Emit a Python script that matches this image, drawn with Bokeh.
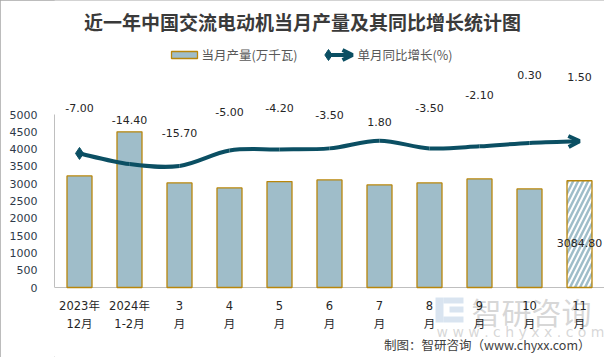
import numpy as np
from bokeh.plotting import figure
from bokeh.models import Range1d, FixedTicker, Arrow, OpenHead
from bokeh.core.properties import value
from bokeh.embed import file_html
from bokeh.resources import INLINE

# ---------------- data ----------------
tick_line1 = ["2023年", "2024年", "3", "4", "5", "6", "7", "8", "9", "10", "11"]
tick_line2 = ["12月", "1-2月", "月", "月", "月", "月", "月", "月", "月", "月", "月"]
production = [3226, 4500, 3023, 2879, 3061, 3110, 2966, 3023, 3139, 2850, 3084.8]
growth = [-7.00, -14.40, -15.70, -5.00, -4.20, -3.50, 1.80, -3.50, -2.10, 0.30, 1.50]

# ---------------- layout / style ----------------
W, H = 604, 357
LEFT = 54
FW = W - LEFT
ZERO_PX, PX_PER_5000 = 287.0, 173.0
UNIT = 5000.0 / PX_PER_5000           # data units per pixel
YMIN = -(H - ZERO_PX) * UNIT
YMAX = ZERO_PX * UNIT
# secondary axis: -100..20 spans the same height as 0..5000
sec = lambda y: -100.0 + 120.0 * y / 5000.0

BAR_FILL = "#9fbdc9"
BAR_LINE = "#b8860b"
LINE_C = "#0b4f63"
TXT = "#262626"
NUM_FONT = "DejaVu Sans"
CJK_FONT = "Noto Sans CJK SC"
MIX_FONT = "DejaVu Sans, Noto Sans CJK SC"
WM_BLUE = "#c9d8ea"

n = len(production)
idx = list(range(n))


def X(sx):
    return (sx - LEFT) / FW * n - 0.5


def Y(sy):
    return (ZERO_PX - sy) * UNIT


# heights (in reference pixels) of the growth labels
label_screen_y = [107, 119, 132, 111, 107, 114, 121, 107, 94, 74, 76]
label_y = [Y(s) for s in label_screen_y]

p = figure(width=W, height=H, x_range=Range1d(-0.5, n - 0.5),
           y_range=Range1d(YMIN, YMAX), output_backend="svg", toolbar_location=None,
           min_border_left=LEFT, min_border_right=0, min_border_top=0,
           min_border_bottom=0, title=None)
p.extra_y_ranges = {"growth": Range1d(sec(YMIN), sec(YMAX))}
p.outline_line_color = None
p.grid.visible = False
p.background_fill_color = "white"
p.border_fill_color = "white"
p.styles = {"outline": "1px solid #a6a6a6", "outline-offset": "-1px"}

# y axis
ya = p.yaxis[0]
ya.ticker = FixedTicker(ticks=list(range(0, 5001, 500)))
ya.bounds = (0, 5000)
ya.axis_line_color = "#bfbfbf"
ya.major_tick_line_color = None
ya.minor_tick_line_color = None
ya.major_label_standoff = 11
ya.major_label_text_font = NUM_FONT
ya.major_label_text_font_size = "11px"
ya.major_label_text_color = "#2e3a4a"

# x axis: baseline + two-line category labels
p.xaxis.visible = False
p.hspan(y=[0], line_color="#bfbfbf", line_width=1)

# watermark (faint logo + text)
p.quad(left=[X(435), X(443), X(449), X(443)], right=[X(443), X(463), X(463), X(463)],
       top=[Y(297), Y(297), Y(306), Y(316)], bottom=[Y(322), Y(303), Y(312), Y(322)],
       fill_color=WM_BLUE, line_color=None, fill_alpha=0.7)
p.text(x=[X(531)], y=[Y(310)], text=["智研咨询"], text_align="center",
       text_baseline="middle", text_font=value(CJK_FONT), text_font_size="30px",
       text_color="#b0b0b0", text_alpha=0.5)
p.text(x=[X(520)], y=[Y(331)], text=["w w w . c h y x x . c o m"], text_align="center",
       text_baseline="middle", text_font=value(NUM_FONT), text_font_size="14px",
       text_color="#b0b0b0", text_alpha=0.5)

p.text(x=idx, y=[Y(305)] * n, text=tick_line1, text_align="center",
       text_baseline="middle", text_font=value(MIX_FONT), text_font_size="11.5px",
       text_color=TXT)
p.text(x=idx, y=[Y(323)] * n, text=tick_line2, text_align="center",
       text_baseline="middle", text_font=value(MIX_FONT), text_font_size="11.5px",
       text_color=TXT)

# bars
p.vbar(x=idx[:-1], top=production[:-1], width=0.5, fill_color=BAR_FILL,
       line_color=BAR_LINE, line_width=1.3)
p.vbar(x=idx[-1:], top=production[-1:], width=0.5, fill_color="white",
       line_color=BAR_LINE, line_width=1.3, hatch_pattern="/",
       hatch_color=BAR_FILL, hatch_scale=10, hatch_weight=2.5)

# smoothed growth line (Catmull-Rom -> cubic bezier)
pts = np.array([[float(i), float(g)] for i, g in zip(idx, growth)])
x0s, y0s, x1s, y1s, cx0, cy0, cx1, cy1 = ([] for _ in range(8))
for i in range(n - 1):
    p0 = pts[max(i - 1, 0)]
    p1 = pts[i]
    p2 = pts[i + 1]
    p3 = pts[min(i + 2, n - 1)]
    c0 = p1 + (p2 - p0) / 6.0
    c1 = p2 - (p3 - p1) / 6.0
    x0s.append(p1[0]); y0s.append(p1[1])
    x1s.append(p2[0]); y1s.append(p2[1])
    cx0.append(c0[0]); cy0.append(c0[1])
    cx1.append(c1[0]); cy1.append(c1[1])
p.bezier(x0=x0s, y0=y0s, x1=x1s, y1=y1s, cx0=cx0, cy0=cy0, cx1=cx1, cy1=cy1,
         y_range_name="growth", line_color=LINE_C, line_width=4)
p.scatter(x=idx[:1], y=growth[:1], marker="diamond", size=12, fill_color=LINE_C,
          line_color=LINE_C, y_range_name="growth")
tx, ty = x1s[-1] - cx1[-1], y1s[-1] - cy1[-1]
p.add_layout(Arrow(end=OpenHead(size=11, line_color=LINE_C, line_width=4),
                   x_start=x1s[-1] - 0.5 * tx, y_start=y1s[-1] - 0.5 * ty,
                   x_end=x1s[-1], y_end=y1s[-1], y_range_name="growth",
                   line_color=LINE_C, line_width=4))

# growth labels
p.text(x=idx, y=label_y, text=[f"{g:.2f}" for g in growth], text_align="center",
       text_baseline="middle", text_font=value(NUM_FONT), text_font_size="11px",
       text_color=TXT)
# last bar value label
p.text(x=idx[-1:], y=[Y(242)], text=[f"{production[-1]:.2f}"], text_align="center",
       text_baseline="middle", text_font=value(NUM_FONT), text_font_size="11px",
       text_color=TXT)

# title
p.text(x=[X(302)], y=[Y(21)], text=["近一年中国交流电动机当月产量及其同比增长统计图"],
       text_align="center", text_baseline="middle", text_font=value(CJK_FONT),
       text_font_style="bold", text_font_size="19px", text_color="#3a3a3a")

# legend
p.quad(left=[X(171)], right=[X(197)], top=[Y(51)], bottom=[Y(58)],
       fill_color=BAR_FILL, line_color=BAR_LINE, line_width=1.3)
p.text(x=[X(201)], y=[Y(54)], text=["当月产量(万千瓦)"], text_align="left",
       text_baseline="middle", text_font=value(CJK_FONT), text_font_size="12.5px",
       text_color="#595959")
p.scatter(x=[X(328)], y=[Y(54.5)], marker="diamond", size=11, fill_color=LINE_C,
          line_color=LINE_C)
p.add_layout(Arrow(end=OpenHead(size=10, line_color=LINE_C, line_width=4),
                   x_start=X(329), y_start=Y(54.5), x_end=X(352), y_end=Y(54.5),
                   line_color=LINE_C, line_width=4))
p.text(x=[X(357)], y=[Y(54)], text=["单月同比增长(%)"], text_align="left",
       text_baseline="middle", text_font=value(CJK_FONT), text_font_size="12.5px",
       text_color="#595959")

# credit
p.text(x=[X(590)], y=[Y(344)], text=["制图：智研咨询（www.chyxx.com）"],
       text_align="right", text_baseline="middle", text_font=value(CJK_FONT),
       text_font_size="12.5px", text_color="#404040")

open("out.html", "w").write(file_html(p, INLINE))
